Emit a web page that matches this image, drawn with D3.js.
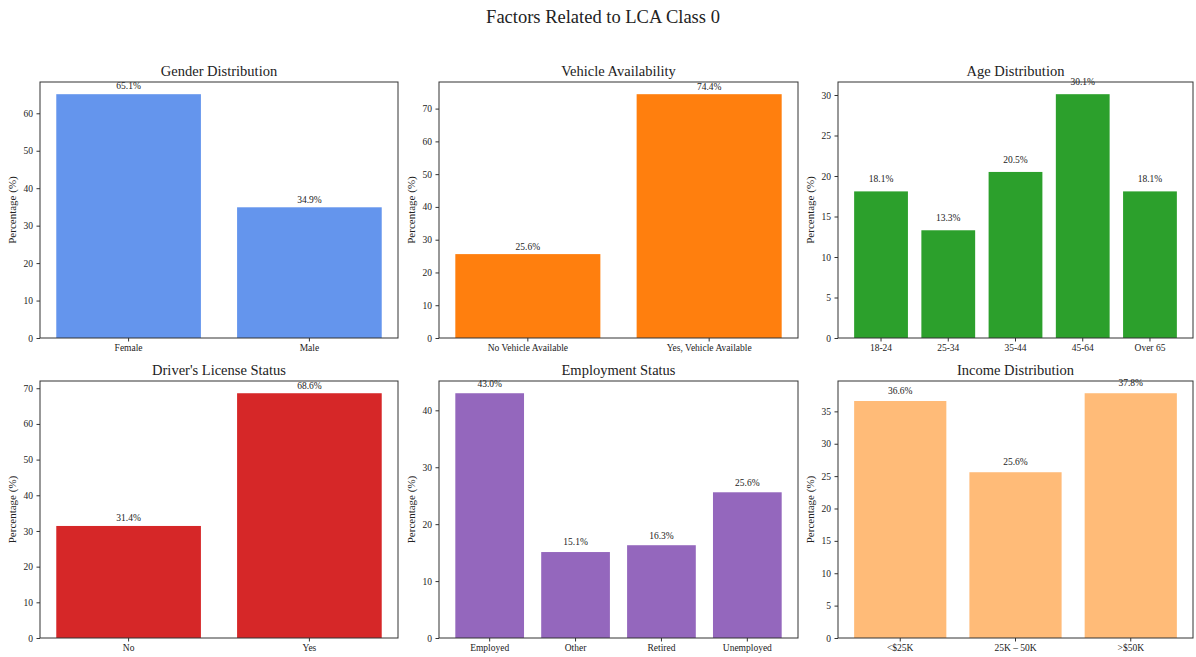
<!DOCTYPE html>
<html>
<head>
<meta charset="utf-8">
<script src="https://cdn.jsdelivr.net/npm/d3@7/dist/d3.min.js"></script>
<style>
  html, body { margin: 0; padding: 0; background: #fff; }
  svg { display: block; font-family: "Liberation Serif", "DejaVu Serif", serif; }
</style>
</head>
<body>
<svg id="chart" width="1196" height="657"></svg>
<script>
// ---- Data ----
const genderCats = ["Female", "Male"];
const genderVals = [65.1, 34.9];

const vehicleCats = ["No Vehicle Available", "Yes, Vehicle Available"];
const vehicleVals = [25.6, 74.4];

const ageCats = ["18-24", "25-34", "35-44", "45-64", "Over 65"];
const ageVals = [18.1, 13.3, 20.5, 30.1, 18.1];

const licenseCats = ["No", "Yes"];
const licenseVals = [31.4, 68.6];

const employmentCats = ["Employed", "Other", "Retired", "Unemployed"];
const employmentVals = [43.0, 15.1, 16.3, 25.6];

const incomeCats = ["<$25K", "25K – 50K", ">$50K"];
const incomeVals = [36.6, 25.6, 37.8];

const panelTitles = ["Gender Distribution", "Vehicle Availability", "Age Distribution",
                     "Driver's License Status", "Employment Status", "Income Distribution"];
const mainTitle = "Factors Related to LCA Class 0";
const yLabel = "Percentage (%)";

// ---- Layout ----
const svg = d3.select("#chart");
const colsX = [[40, 398], [439, 798], [838, 1193]];
const rowsY = [[82, 338], [381, 638]];
const panels = [
  {cats: genderCats, vals: genderVals, color: "#6495ED"},
  {cats: vehicleCats, vals: vehicleVals, color: "#ff7f0e"},
  {cats: ageCats, vals: ageVals, color: "#2ca02c"},
  {cats: licenseCats, vals: licenseVals, color: "#d62728"},
  {cats: employmentCats, vals: employmentVals, color: "#9467bd"},
  {cats: incomeCats, vals: incomeVals, color: "#ffbb78"}
];

svg.append("text")
  .attr("x", 603).attr("y", 23)
  .attr("text-anchor", "middle")
  .attr("font-size", 18.5)
  .attr("fill", "#222")
  .text(mainTitle);

panels.forEach((p, i) => {
  const [x0, x1] = colsX[i % 3];
  const [y0, y1] = rowsY[Math.floor(i / 3)];
  const n = p.cats.length;
  const x = d3.scaleBand().domain(p.cats).range([x0, x1])
    .paddingInner(0.2).paddingOuter(0.05 * (n - 0.2));
  const y = d3.scaleLinear().domain([0, d3.max(p.vals) * 1.05]).range([y1, y0]);
  const g = svg.append("g");

  g.selectAll("rect.bar").data(p.vals).enter().append("rect")
    .attr("class", "bar")
    .attr("x", (d, j) => x(p.cats[j]))
    .attr("width", x.bandwidth())
    .attr("y", d => y(d))
    .attr("height", d => y1 - y(d))
    .attr("fill", p.color);

  g.selectAll("text.val").data(p.vals).enter().append("text")
    .attr("class", "val")
    .attr("x", (d, j) => x(p.cats[j]) + x.bandwidth() / 2)
    .attr("y", d => y(d + 1) - 1)
    .attr("text-anchor", "middle")
    .attr("font-size", 9.5)
    .attr("fill", "#222")
    .text(d => d.toFixed(1) + "%");

  const yAxis = g.append("g").attr("transform", `translate(${x0},0)`)
    .call(d3.axisLeft(y).ticks(6).tickSize(3.5).tickPadding(3.5).tickFormat(d3.format("d")));
  const xAxis = g.append("g").attr("transform", `translate(0,${y1})`)
    .call(d3.axisBottom(x).tickSize(3.5).tickPadding(3));
  [yAxis, xAxis].forEach(a => {
    a.select(".domain").remove();
    a.selectAll("text").attr("font-size", 9.5).attr("fill", "#222")
      .attr("font-family", "Liberation Serif, serif");
    a.selectAll("line").attr("stroke", "#333");
  });

  g.append("rect")
    .attr("x", x0).attr("y", y0)
    .attr("width", x1 - x0).attr("height", y1 - y0)
    .attr("fill", "none").attr("stroke", "#333").attr("stroke-width", 1);

  g.append("text")
    .attr("x", (x0 + x1) / 2).attr("y", y0 - 6)
    .attr("text-anchor", "middle")
    .attr("font-size", 14.5)
    .attr("fill", "#222")
    .text(panelTitles[i]);

  g.append("text")
    .attr("transform", `translate(${x0 - 24},${(y0 + y1) / 2}) rotate(-90)`)
    .attr("text-anchor", "middle")
    .attr("font-size", 11)
    .attr("fill", "#222")
    .text(yLabel);
});
</script>
</body>
</html>
